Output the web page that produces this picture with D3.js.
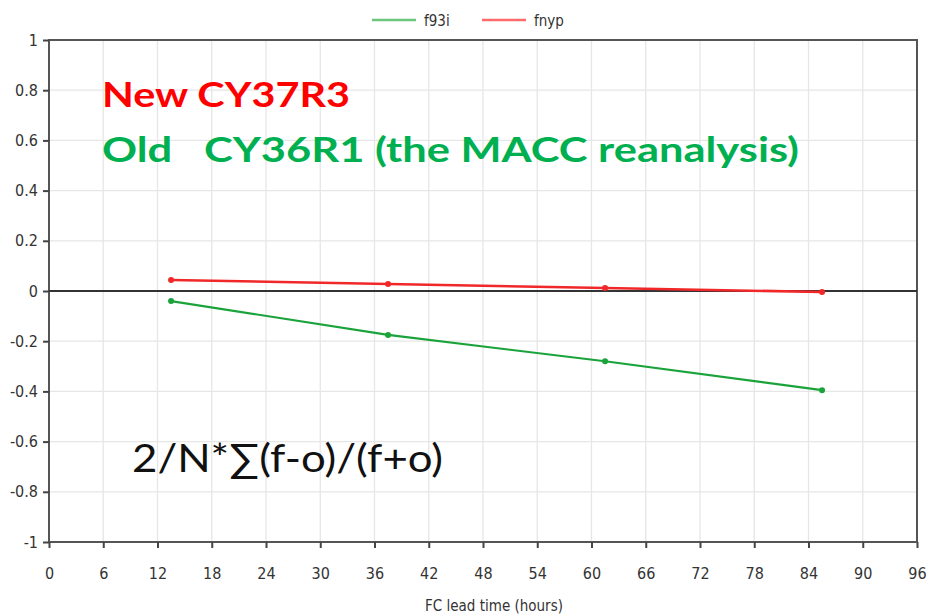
<!DOCTYPE html>
<html>
<head>
<meta charset="utf-8">
<script src="https://cdn.jsdelivr.net/npm/d3@7"></script>
<style>
  html, body { margin: 0; padding: 0; background: #fff; }
  svg { display: block; }
  .axis-font { font-family: "DejaVu Sans", sans-serif; font-stretch: condensed; }
</style>
</head>
<body>
<svg id="chart" width="929" height="615"></svg>
<script>
// Forecast lead times (hours) of the verification points
const leadHours = [13.5, 37.5, 61.5, 85.5];
// Modified normalised mean bias per experiment
const f93iValues = [-0.04, -0.175, -0.28, -0.395];
const fnypValues = [0.044, 0.028, 0.012, -0.004];
const seriesNames = ["f93i", "fnyp"];
const seriesColors = ["#1aa33a", "#f0282a"];
const legendColors = ["#6cc67e", "#ff6a6a"];
const xTicks = d3.range(0, 97, 6);
const yTicks = [-1, -0.8, -0.6, -0.4, -0.2, 0, 0.2, 0.4, 0.6, 0.8, 1];

const svg = d3.select("#chart");
const W = 929, H = 615;
const m = { left: 49, right: 12, top: 40, bottom: 73 };

const x = d3.scaleLinear().domain([0, 96]).range([m.left, W - m.right]);
const y = d3.scaleLinear().domain([-1, 1]).range([H - m.bottom, m.top]);

// grid
const grid = svg.append("g");
grid.selectAll("line.v").data(xTicks.slice(1, -1)).join("line")
  .attr("x1", d => x(d)).attr("x2", d => x(d))
  .attr("y1", y(1)).attr("y2", y(-1))
  .attr("stroke", "#e6e6e6").attr("stroke-width", 1.3);
grid.selectAll("line.h").data(yTicks.filter(d => d !== 0 && Math.abs(d) !== 1)).join("line")
  .attr("x1", x(0)).attr("x2", x(96))
  .attr("y1", d => y(d)).attr("y2", d => y(d))
  .attr("stroke", "#e6e6e6").attr("stroke-width", 1.3);

// frame
svg.append("rect")
  .attr("x", x(0)).attr("y", y(1))
  .attr("width", x(96) - x(0)).attr("height", y(-1) - y(1))
  .attr("fill", "none").attr("stroke", "#555").attr("stroke-width", 2);

// zero line
svg.append("line")
  .attr("x1", x(0)).attr("x2", x(96))
  .attr("y1", y(0)).attr("y2", y(0))
  .attr("stroke", "#333").attr("stroke-width", 2);

// axes
const yAxis = d3.axisLeft(y).tickValues(yTicks).tickSize(6).tickPadding(5)
  .tickFormat(d => String(+d.toFixed(1)));
const gy = svg.append("g").attr("transform", `translate(${x(0)},0)`).call(yAxis);
gy.select(".domain").remove();
gy.selectAll(".tick line").attr("stroke", "#444").attr("stroke-width", 2);
gy.selectAll(".tick text").attr("class", "axis-font").attr("font-size", 16).attr("fill", "#333");

const xAxis = d3.axisBottom(x).tickValues(xTicks).tickSize(6).tickPadding(20)
  .tickFormat(d => String(d));
const gx = svg.append("g").attr("transform", `translate(0,${y(-1)})`).call(xAxis);
gx.select(".domain").remove();
gx.selectAll(".tick line").attr("stroke", "#444").attr("stroke-width", 2);
gx.selectAll(".tick text").attr("class", "axis-font").attr("font-size", 16).attr("fill", "#333");

svg.append("text")
  .attr("class", "axis-font")
  .attr("x", 494).attr("y", 611)
  .attr("text-anchor", "middle")
  .attr("font-size", 15).attr("fill", "#333")
  .text("FC lead time (hours)");

// series
const series = [f93iValues, fnypValues];
const line = d3.line().x((d, i) => x(leadHours[i])).y(d => y(d));
series.forEach((vals, k) => {
  svg.append("path").datum(vals)
    .attr("d", line).attr("fill", "none")
    .attr("stroke", seriesColors[k]).attr("stroke-width", k === 1 ? 2.6 : 2.2);
  svg.selectAll(null).data(vals).join("circle")
    .attr("cx", (d, i) => x(leadHours[i])).attr("cy", d => y(d))
    .attr("r", 3).attr("fill", seriesColors[k]);
});

// legend
const legendX = [372, 482];
seriesNames.forEach((name, k) => {
  svg.append("line")
    .attr("x1", legendX[k]).attr("x2", legendX[k] + 44)
    .attr("y1", 20).attr("y2", 20)
    .attr("stroke", legendColors[k]).attr("stroke-width", 2.5);
  svg.append("text")
    .attr("class", "axis-font")
    .attr("x", legendX[k] + 52).attr("y", 26)
    .attr("font-size", 15).attr("fill", "#333")
    .text(name);
});

// annotations
svg.append("text")
  .attr("x", 102).attr("y", 107)
  .attr("font-family", "Lato, 'Open Sans', sans-serif").attr("font-weight", "bold")
  .attr("font-size", 35).attr("fill", "#ff0000")
  .attr("textLength", 248).attr("lengthAdjust", "spacingAndGlyphs")
  .text("New CY37R3");
svg.append("text")
  .attr("x", 102).attr("y", 162)
  .attr("font-family", "Lato, 'Open Sans', sans-serif").attr("font-weight", "bold")
  .attr("font-size", 35).attr("fill", "#00b050")
  .attr("textLength", 697).attr("lengthAdjust", "spacingAndGlyphs")
  .attr("xml:space", "preserve")
  .text("Old   CY36R1 (the MACC reanalysis)");
svg.append("text")
  .attr("x", 132).attr("y", 472)
  .attr("font-family", "Lato, 'Open Sans', sans-serif")
  .attr("font-size", 39).attr("fill", "#111")
  .attr("textLength", 311).attr("lengthAdjust", "spacingAndGlyphs")
  .text("2/N*∑(f-o)/(f+o)");
</script>
</body>
</html>
